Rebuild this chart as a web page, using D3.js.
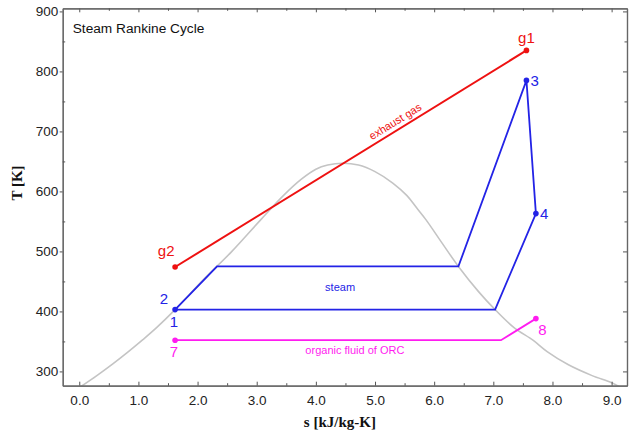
<!DOCTYPE html>
<html>
<head>
<meta charset="utf-8">
<script src="https://cdn.jsdelivr.net/npm/d3@7"></script>
<style>
  body { margin: 0; background: #fff; }
  svg { display: block; font-family: "Liberation Sans", Arial, sans-serif; }
  .axis path { stroke: #666; stroke-width: 1.2; }
  .axis line { stroke: #555; }
  .axis text { font-size: 13.5px; fill: #222; font-family: "Liberation Sans", Arial, sans-serif; }
</style>
</head>
<body>
<div id="canvas"></div>
<script>
// data
const domeS = [0.0, 0.297, 0.573, 0.831, 1.075, 1.307, 1.62, 2.10, 2.58, 3.07, 3.45, 3.75, 4.0, 4.2, 4.45, 4.72, 5.0, 5.3, 5.54, 5.70, 5.86, 6.14, 6.41, 6.75, 7.03, 7.35, 7.67, 7.91, 8.27, 8.67, 9.0, 9.16];
const domeT = [273, 293, 313, 333, 353, 373, 403, 453, 500, 553, 593, 620, 637, 644, 647, 644, 633, 614, 593, 573, 553, 513, 475, 433, 403, 373, 352, 333, 311, 293, 281, 273];

const steamS = [1.62, 2.33, 6.41, 7.56, 7.72, 7.03, 1.62];
const steamT = [403, 475, 475, 785, 563, 403, 403];

const gasS = [1.62, 7.56];
const gasT = [474, 835];

const orcS = [1.62, 7.13, 7.72];
const orcT = [352, 352, 388];

const markerS = [1.62, 7.56, 7.72, 1.62, 7.72, 1.62, 7.56];
const markerT = [403, 785, 563, 352, 388, 474, 835];
const markerColour = ["#2323e6", "#2323e6", "#2323e6", "#ff1cf0", "#ff1cf0", "#ee1111", "#ee1111"];

const pointLabels = ["g1", "g2", "1", "2", "3", "4", "7", "8"];
const pointLabelS = [7.56, 1.47, 1.60, 1.43, 7.70, 7.86, 1.60, 7.83];
const pointLabelT = [857, 501, 383, 422, 784, 563, 333, 370];
const pointLabelColour = ["#ee1111", "#ee1111", "#2323e6", "#2323e6", "#2323e6", "#2323e6", "#ff1cf0", "#ff1cf0"];

const xTicks = [0, 1, 2, 3, 4, 5, 6, 7, 8, 9];
const yTicks = [300, 400, 500, 600, 700, 800, 900];

// define svg canvas
const W = 629, H = 433;
const margin = {top: 8.3, right: 2, bottom: 47.3, left: 62.7},
	width = W - margin.left - margin.right,
	height = H - margin.top - margin.bottom;

const svg = d3.select("#canvas")
	.append("svg")
	.attr("width", W)
	.attr("height", H),
g = svg.append("g")
	.attr("transform", "translate(" + margin.left + "," + margin.top + ")");

const x = d3.scaleLinear().domain([-0.28, 9.26]).range([0, width]);
const y = d3.scaleLinear().domain([276.2, 905.2]).range([height, 0]);

const line = d3.line().x(d => x(d[0])).y(d => y(d[1]));

g.append("defs").append("clipPath").attr("id", "clip")
	.append("rect").attr("width", width).attr("height", height);

// saturation dome
g.append("path")
	.datum(domeS.map((s, i) => [s, domeT[i]]))
	.attr("clip-path", "url(#clip)")
	.attr("fill", "none")
	.attr("stroke", "#c4c4c4")
	.attr("stroke-width", 1.6)
	.attr("d", line.curve(d3.curveCatmullRom));
line.curve(d3.curveLinear);

// exhaust gas
g.append("path")
	.datum(gasS.map((s, i) => [s, gasT[i]]))
	.attr("fill", "none").attr("stroke", "#ee1111").attr("stroke-width", 2)
	.attr("d", line);

// steam cycle
g.append("path")
	.datum(steamS.map((s, i) => [s, steamT[i]]))
	.attr("fill", "none").attr("stroke", "#2323e6").attr("stroke-width", 1.8)
	.attr("stroke-linejoin", "miter")
	.attr("d", line);

// ORC
g.append("path")
	.datum(orcS.map((s, i) => [s, orcT[i]]))
	.attr("fill", "none").attr("stroke", "#ff1cf0").attr("stroke-width", 1.8)
	.attr("d", line);

g.selectAll(".pt")
	.data(markerS)
	.join("circle")
	.attr("cx", d => x(d))
	.attr("cy", (d, i) => y(markerT[i]))
	.attr("r", 2.8)
	.attr("fill", (d, i) => markerColour[i]);

g.selectAll(".plabel")
	.data(pointLabels)
	.join("text")
	.attr("x", (d, i) => x(pointLabelS[i]))
	.attr("y", (d, i) => y(pointLabelT[i]))
	.attr("text-anchor", "middle")
	.attr("dy", "0.36em")
	.style("font-size", "15px")
	.attr("fill", (d, i) => pointLabelColour[i])
	.text(d => d);

// line captions
const angle = Math.atan2(y(gasT[1]) - y(gasT[0]), x(gasS[1]) - x(gasS[0])) * 180 / Math.PI;
g.append("text")
	.attr("transform", "translate(" + x(5.42) + "," + y(704) + ") rotate(" + angle + ")")
	.attr("y", -5)
	.attr("text-anchor", "middle")
	.style("font-size", "11px")
	.attr("fill", "#ee1111")
	.text("exhaust gas");

g.append("text")
	.attr("x", x(4.41)).attr("y", y(440)).attr("dy", "0.35em")
	.attr("text-anchor", "middle")
	.style("font-size", "11px")
	.attr("fill", "#2323e6")
	.text("steam");

g.append("text")
	.attr("x", x(4.66)).attr("y", y(336)).attr("dy", "0.35em")
	.attr("text-anchor", "middle")
	.style("font-size", "11px")
	.attr("fill", "#ff1cf0")
	.text("organic fluid of ORC");

g.append("text")
	.attr("x", 10).attr("y", 25)
	.style("font-size", "13.7px")
	.attr("fill", "#111")
	.text("Steam Rankine Cycle");

// axes
const minorX = d3.range(0, 9.3, 0.5).filter(v => v % 1 !== 0);
const minorY = d3.range(300, 901, 50).filter(v => v % 100 !== 0);

g.append("g").attr("class", "axis")
	.attr("transform", "translate(0," + height + ")")
	.call(d3.axisBottom(x).tickValues(xTicks).tickFormat(d3.format(".1f")).tickSizeInner(-4).tickSizeOuter(0).tickPadding(10));
g.append("g").attr("class", "axis")
	.attr("transform", "translate(0," + height + ")")
	.call(d3.axisBottom(x).tickValues(minorX).tickFormat("").tickSizeInner(-2.5).tickSizeOuter(0));
g.append("g").attr("class", "axis")
	.call(d3.axisTop(x).tickValues(xTicks).tickFormat("").tickSizeInner(-4).tickSizeOuter(0));
g.append("g").attr("class", "axis")
	.call(d3.axisTop(x).tickValues(minorX).tickFormat("").tickSizeInner(-2.5).tickSizeOuter(0));

g.append("g").attr("class", "axis")
	.call(d3.axisLeft(y).tickValues(yTicks).tickSizeInner(3).tickSizeOuter(0).tickPadding(1.5));
g.append("g").attr("class", "axis")
	.call(d3.axisLeft(y).tickValues(minorY).tickFormat("").tickSizeInner(-2.5).tickSizeOuter(0));
g.append("g").attr("class", "axis")
	.attr("transform", "translate(" + width + ",0)")
	.call(d3.axisRight(y).tickValues(yTicks).tickFormat("").tickSizeInner(-4).tickSizeOuter(0));
g.append("g").attr("class", "axis")
	.attr("transform", "translate(" + width + ",0)")
	.call(d3.axisRight(y).tickValues(minorY).tickFormat("").tickSizeInner(-2.5).tickSizeOuter(0));

// axis titles
svg.append("text")
	.attr("x", margin.left + width / 2 - 5).attr("y", 427)
	.attr("text-anchor", "middle")
	.style("font-family", "'Liberation Serif', 'Times New Roman', serif")
	.style("font-weight", "bold").style("font-size", "15px")
	.attr("fill", "#111")
	.text("s [kJ/kg-K]");

svg.append("text")
	.attr("transform", "translate(22,183) rotate(-90)")
	.attr("text-anchor", "middle")
	.style("font-family", "'Liberation Serif', 'Times New Roman', serif")
	.style("font-weight", "bold").style("font-size", "15px")
	.attr("fill", "#111")
	.text("T [K]");
</script>
</body>
</html>
